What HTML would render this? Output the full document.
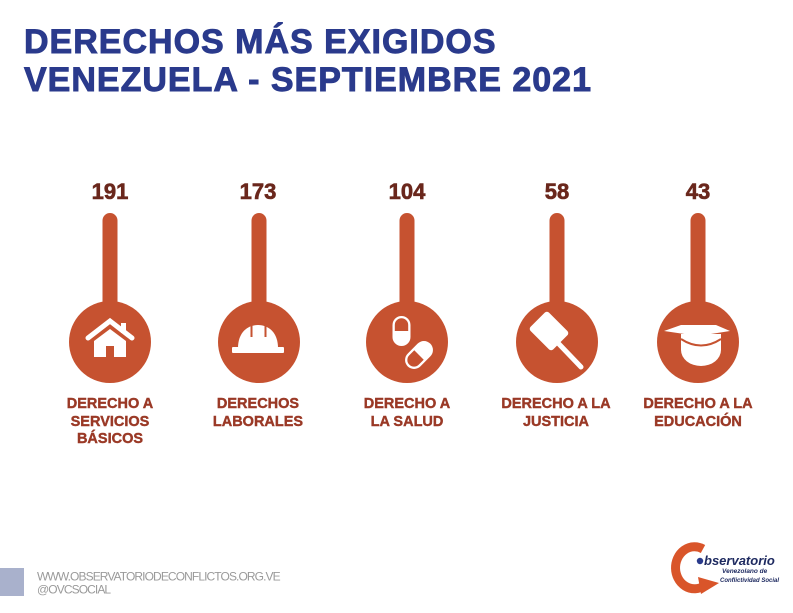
<!DOCTYPE html>
<html>
<head>
<meta charset="utf-8">
<style>
  html,body{margin:0;padding:0;background:#fff;}
  svg{display:block;}
  text{font-family:"Liberation Sans",Arial,sans-serif;}
</style>
</head>
<body>
<svg width="793" height="613" viewBox="0 0 793 613" xmlns="http://www.w3.org/2000/svg">
  <rect width="793" height="613" fill="#ffffff"/>

  <!-- Title -->
  <g font-size="34" font-weight="bold" fill="#2a3a8c" stroke="#2a3a8c" stroke-width="0.9" letter-spacing="1">
    <text x="24" y="53">DERECHOS MÁS EXIGIDOS</text>
    <text x="24" y="91">VENEZUELA - SEPTIEMBRE 2021</text>
  </g>

  <!-- Numbers -->
  <g font-size="22" font-weight="bold" fill="#6a271c" stroke="#6a271c" stroke-width="0.6" text-anchor="middle">
    <text x="110" y="199">191</text>
    <text x="258" y="199">173</text>
    <text x="407" y="199">104</text>
    <text x="557" y="199">58</text>
    <text x="698" y="199">43</text>
  </g>

  <!-- Stems and circles -->
  <g fill="#c65230">
    <rect x="102.5" y="213" width="15" height="100" rx="7.5"/>
    <circle cx="110" cy="342" r="41"/>
    <rect x="251.5" y="213" width="15" height="100" rx="7.5"/>
    <circle cx="259" cy="342" r="41"/>
    <rect x="399.5" y="213" width="15" height="100" rx="7.5"/>
    <circle cx="407" cy="342" r="41"/>
    <rect x="549.5" y="213" width="15" height="100" rx="7.5"/>
    <circle cx="557" cy="342" r="41"/>
    <rect x="690.5" y="213" width="15" height="100" rx="7.5"/>
    <circle cx="698" cy="342" r="41"/>
  </g>

  <!-- House icon -->
  <g fill="#ffffff">
    <polyline points="88,338 110,321 132,338" fill="none" stroke="#ffffff" stroke-width="5" stroke-linejoin="miter" stroke-linecap="round"/>
    <rect x="121" y="323" width="5" height="10"/>
    <path d="M110,329 L126,341 L126,357 L114,357 L114,346 L106,346 L106,357 L94,357 L94,341 Z"/>
  </g>

  <!-- Hard hat icon -->
  <g fill="#ffffff">
    <rect x="232" y="347" width="52" height="6" rx="1"/>
    <path d="M238,348 C238,333 247,325 258,325 C269,325 278,333 278,348 Z"/>
    <line x1="251.5" y1="325" x2="251.5" y2="337" stroke="#c65230" stroke-width="2"/>
    <line x1="265.5" y1="325" x2="265.5" y2="337" stroke="#c65230" stroke-width="2"/>
  </g>

  <!-- Pills icon -->
  <g>
    <rect x="392.5" y="316" width="18" height="30" rx="9" fill="#ffffff"/>
    <path d="M394.8,331 L394.8,325 A6.7,6.7 0 0 1 408.2,325 L408.2,331 Z" fill="#c65230"/>
    <g transform="translate(419,355) rotate(-45)">
      <rect x="-16" y="-9" width="32" height="18" rx="9" fill="#ffffff"/>
      <path d="M0,-6.7 L-7,-6.7 A6.7,6.7 0 0 0 -7,6.7 L0,6.7 Z" fill="#c65230"/>
    </g>
  </g>

  <!-- Gavel icon -->
  <g fill="#ffffff">
    <line x1="558" y1="343" x2="581" y2="367" stroke="#ffffff" stroke-width="5" stroke-linecap="round"/>
    <g transform="translate(549,331) rotate(45)">
      <rect x="-16" y="-13" width="32" height="26" rx="3"/>
    </g>
  </g>

  <!-- Graduation cap icon -->
  <g fill="#ffffff">
    <path d="M681,334 L681,350 A20,16 0 0 0 721,350 L721,334 Z"/>
    <path d="M681,339 Q701,352 721,339" fill="none" stroke="#c65230" stroke-width="2"/>
    <path d="M664,331 L681,325 L716,325 L730,331 L698,336 Z"/>
  </g>

  <!-- Labels -->
  <g font-size="14.5" font-weight="bold" fill="#9a3926" stroke="#9a3926" stroke-width="0.4" text-anchor="middle">
    <text x="110" y="408">DERECHO A</text>
    <text x="110" y="426">SERVICIOS</text>
    <text x="110" y="443">BÁSICOS</text>
    <text x="258" y="408">DERECHOS</text>
    <text x="258" y="426">LABORALES</text>
    <text x="407" y="408">DERECHO A</text>
    <text x="407" y="426">LA SALUD</text>
    <text x="556" y="408">DERECHO A LA</text>
    <text x="556" y="426">JUSTICIA</text>
    <text x="698" y="408">DERECHO A LA</text>
    <text x="698" y="426">EDUCACIÓN</text>
  </g>

  <!-- Footer -->
  <rect x="0" y="568" width="24" height="28" fill="#a9b1cc"/>
  <text x="37" y="580.5" font-size="12" fill="#9a9a9a" letter-spacing="-0.9">WWW.OBSERVATORIODECONFLICTOS.ORG.VE</text>
  <text x="37" y="593.5" font-size="12" fill="#9a9a9a" letter-spacing="-0.9">@OVCSOCIAL</text>

  <!-- Logo -->
  <g>
    <path d="M703,549 A19,21 0 1 0 704,586" fill="none" stroke="#d9552a" stroke-width="9"/>
    <path d="M698,577 L719,583 L701,594 Z" fill="#d9552a"/>
    <circle cx="700" cy="561" r="3.2" fill="#2a3a8c"/>
    <text x="704" y="565" font-size="13" font-style="italic" font-weight="bold" fill="#1e2a60">bservatorio</text>
    <text x="722" y="573" font-size="6.5" font-style="italic" font-weight="bold" fill="#1e2a60">Venezolano de</text>
    <text x="720" y="582" font-size="6" font-style="italic" font-weight="bold" fill="#1e2a60">Conflictividad Social</text>
  </g>
</svg>
</body>
</html>
